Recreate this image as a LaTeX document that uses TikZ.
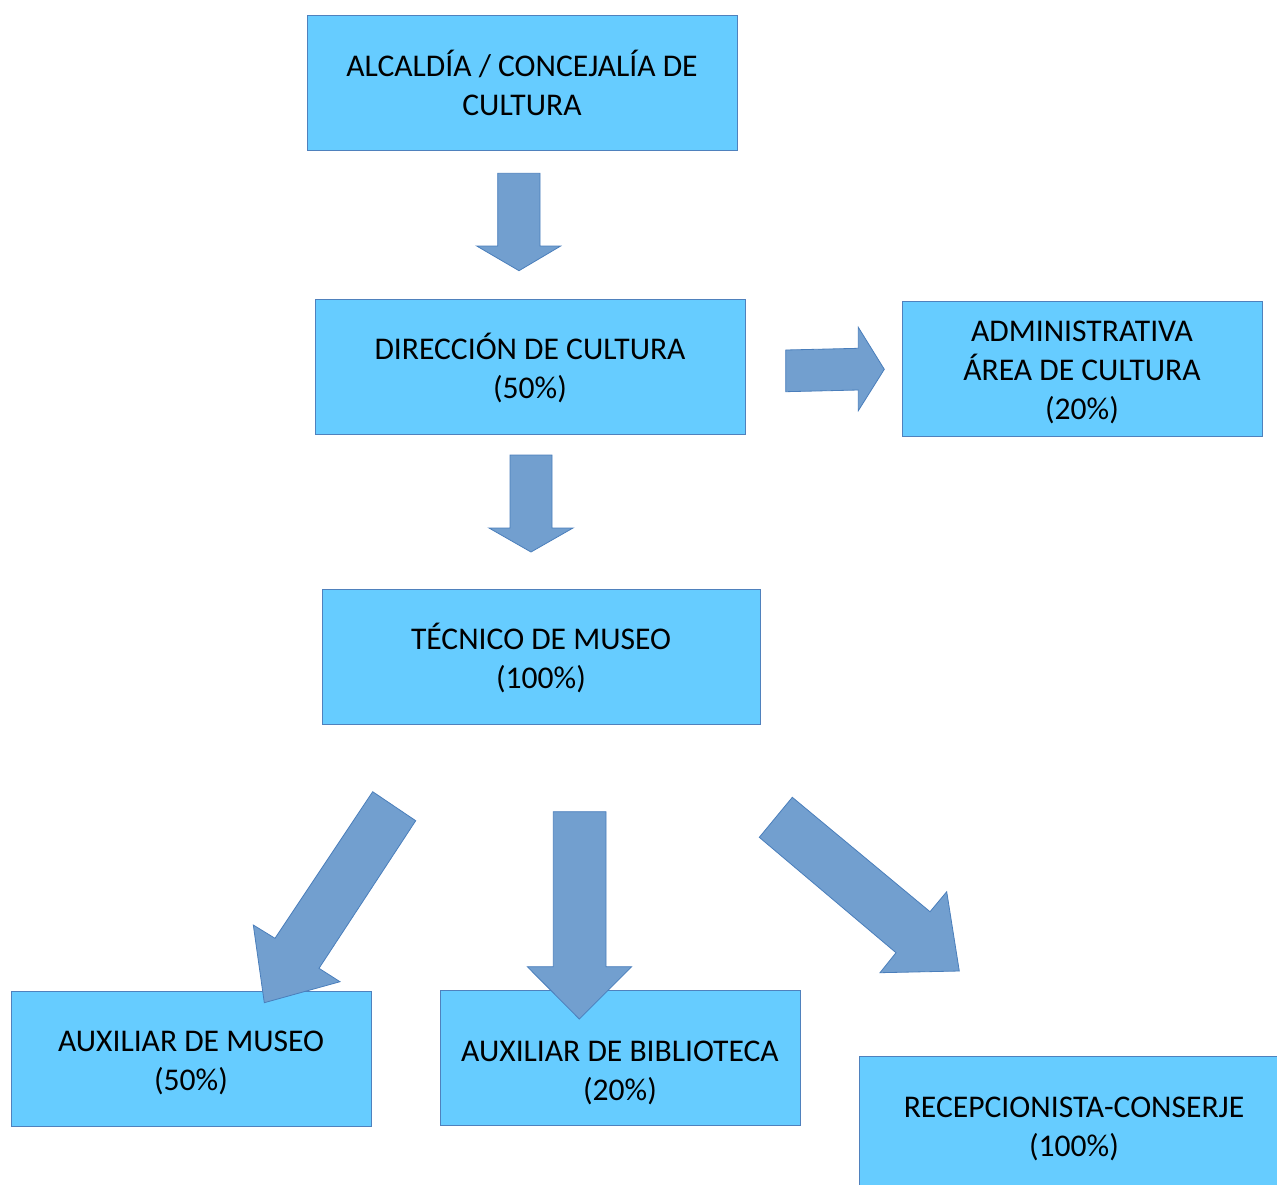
\documentclass[tikz,border=0pt]{standalone}
\usepackage{fontspec}
\setmainfont{Carlito}
\definecolor{boxfill}{HTML}{66CCFF}
\definecolor{boxline}{HTML}{4F81BD}
\definecolor{arrowfill}{HTML}{729FCF}
\definecolor{arrowline}{HTML}{4A7EBB}
\newcommand{\capstrut}{\rule{0pt}{29pt}}
\tikzset{
  boxtext/.style={align=center, inner sep=0pt, font=\fontsize{31.6}{39}\selectfont},
  box/.style={boxtext, draw=boxline, fill=boxfill, line width=0.8pt},
  blockarrow/.style={draw=arrowline, fill=arrowfill, line width=0.8pt, line join=miter}
}
\begin{document}
\begin{tikzpicture}[x=1pt,y=-1pt]
\useasboundingbox (0,0) rectangle (1277,1184);
\clip (0,0) rectangle (1277,1184);

% Boxes
\node[box, minimum width=430, minimum height=135] (alcaldia) at (522,82.5) {ALCALDÍA / CONCEJALÍA DE\\CULTURA};
\node[box, minimum width=430, minimum height=135] (direccion) at (530,366.5) {\capstrut DIRECCIÓN DE CULTURA\\(50\%)};
\node[box, minimum width=360, minimum height=135] (admin) at (1082,368.5) {\capstrut ADMINISTRATIVA\\ÁREA DE CULTURA\\(20\%)};
\node[box, minimum width=438, minimum height=135] (tecnico) at (541,656.5) {\capstrut TÉCNICO DE MUSEO\\(100\%)};
\node[box, minimum width=360, minimum height=135] (auxmuseo) at (191,1058.5) {\capstrut AUXILIAR DE MUSEO\\(50\%)};
\node[box, minimum width=360, minimum height=135] (auxbiblio) at (620,1057.5) {};
\node[boxtext] (auxbibliotext) at (620,1069) {\capstrut AUXILIAR DE BIBLIOTECA\\(20\%)};
\node[box, minimum width=430, minimum height=138] (recepcion) at (1074,1125) {\capstrut RECEPCIONISTA-CONSERJE\\(100\%)};

% Block arrows
\draw[blockarrow] (497.7,173.3) -- (540,173.3) -- (540,246) -- (560.7,246) -- (519,270.7) -- (476.7,246) -- (497.7,246) -- cycle;
\draw[blockarrow] (785.7,350) -- (858.3,348.3) -- (858.3,327.3) -- (884.3,369.3) -- (858.3,410.7) -- (858.3,390) -- (785.7,391.7) -- cycle;
\draw[blockarrow] (510,455) -- (552,455) -- (552,528) -- (573,528) -- (531,552) -- (489,528) -- (510,528) -- cycle;
\draw[blockarrow] (372.7,791.7) -- (415.7,820.7) -- (319,968.3) -- (340,981.7) -- (264.3,1002.7) -- (253.3,925) -- (275,938.3) -- cycle;
\draw[blockarrow] (553.3,811.7) -- (606,811.7) -- (606,966.7) -- (631.7,966.7) -- (579.3,1019) -- (527.3,966.7) -- (553.3,966.7) -- cycle;
\draw[blockarrow] (792.3,797.3) -- (930,911.7) -- (946.7,891.7) -- (959.3,971) -- (880,972.7) -- (896,952.7) -- (759.3,837.3) -- cycle;

\end{tikzpicture}
\end{document}
